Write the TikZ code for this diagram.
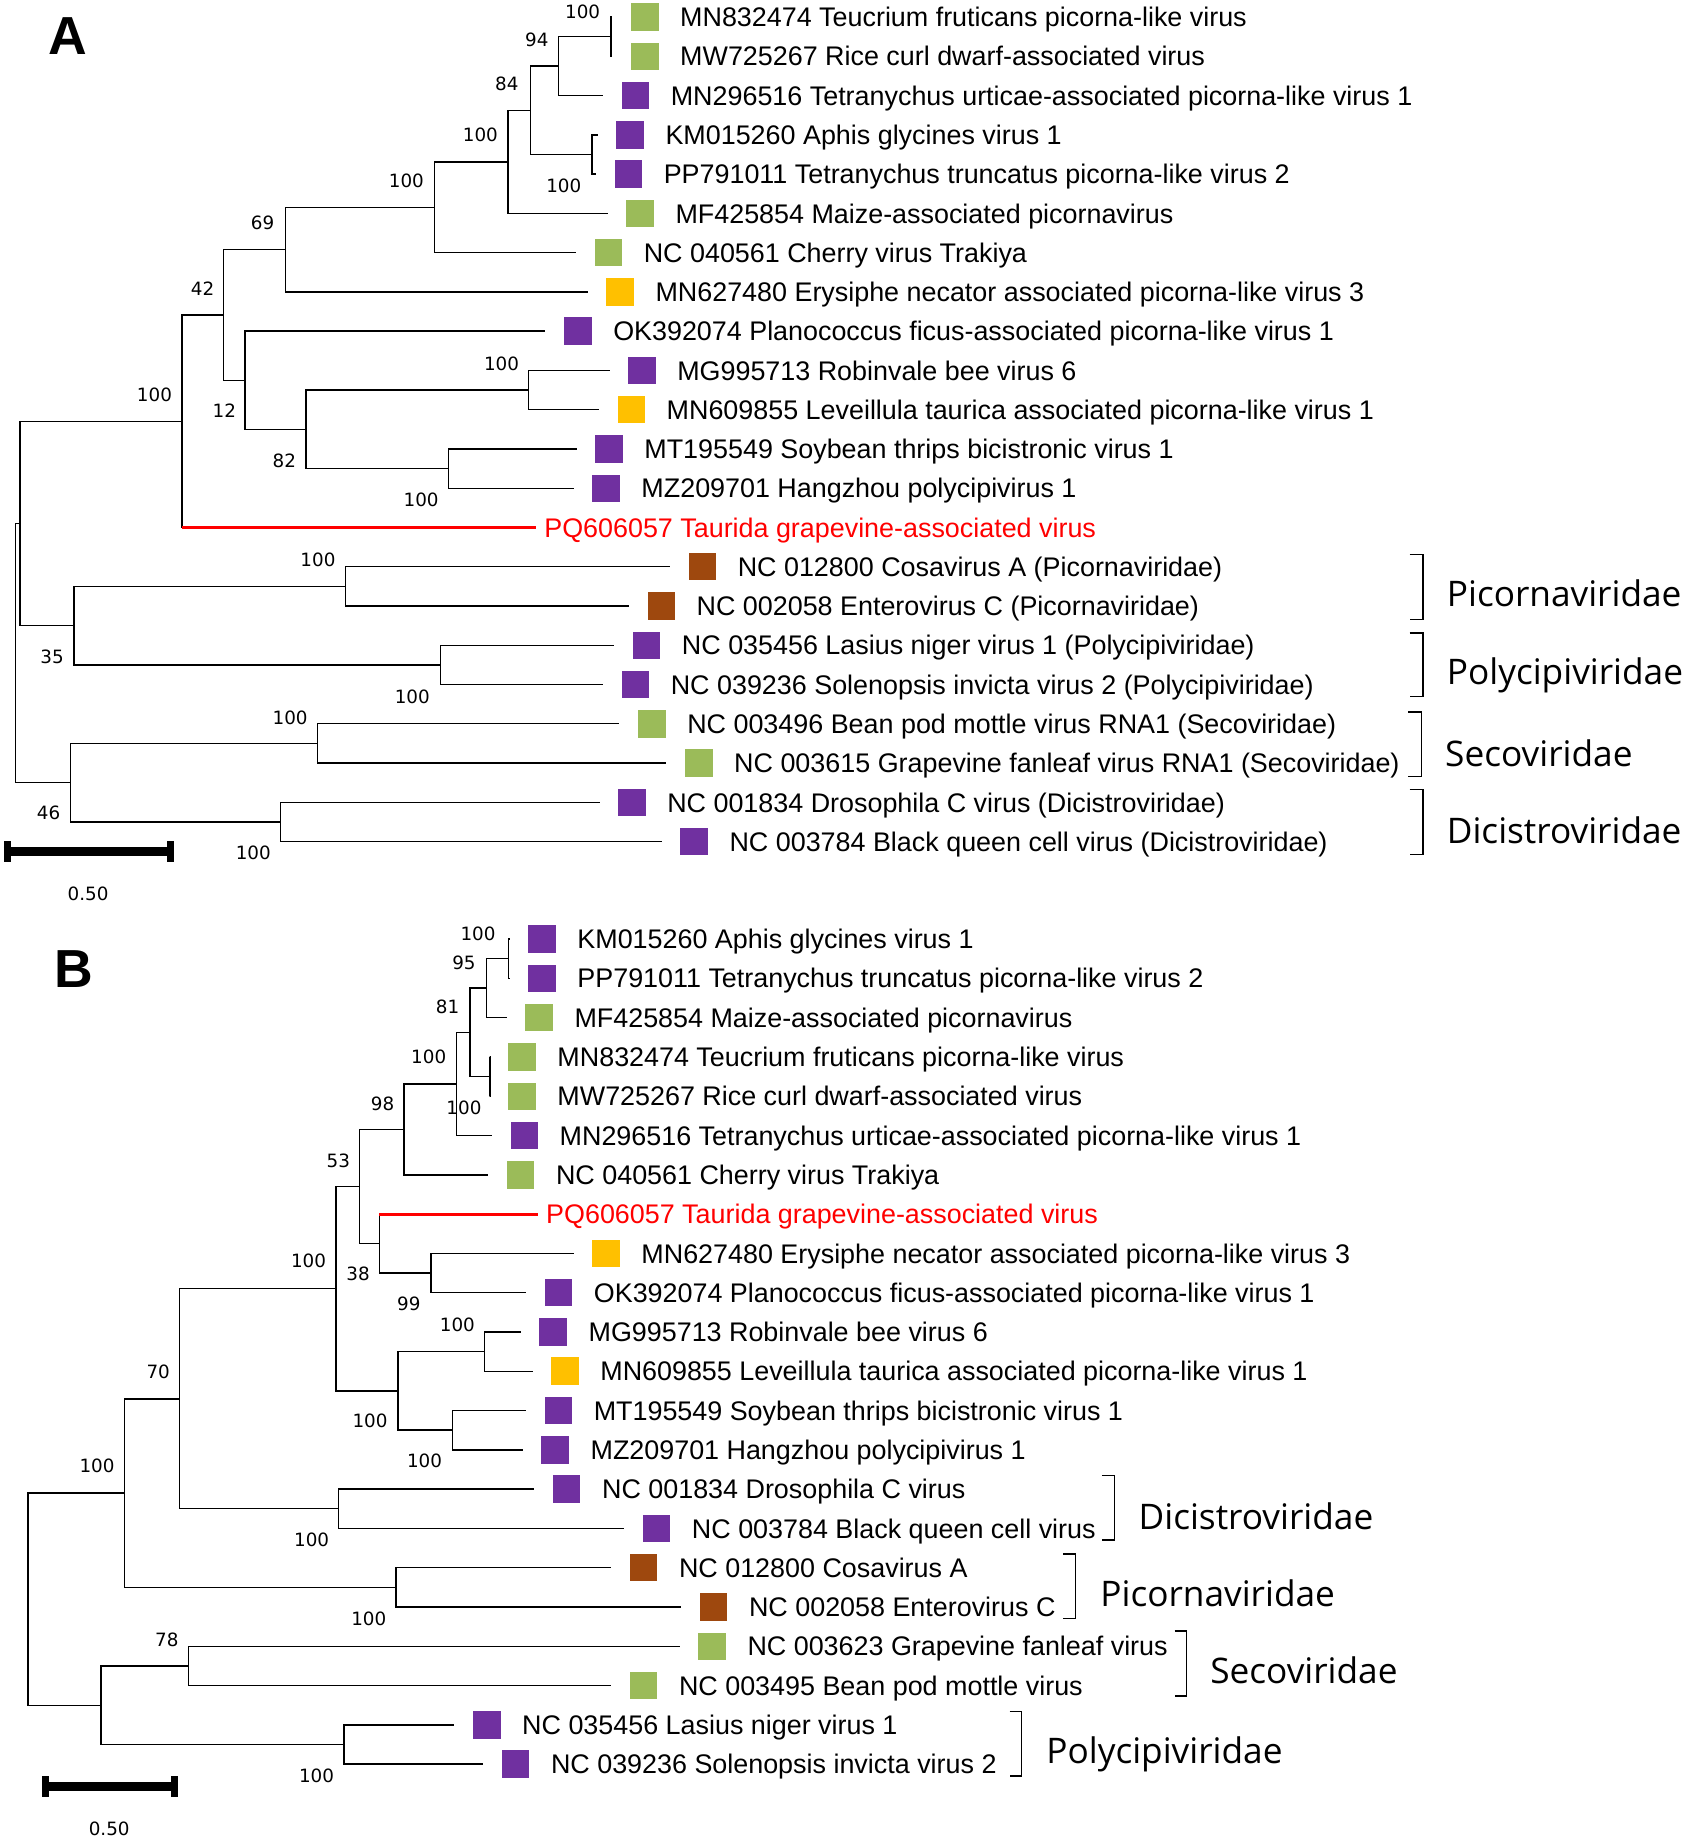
\documentclass[tikz,border=0pt]{standalone}
\usepackage{fontspec}
\setmainfont{Liberation Sans}
\newfontfamily\bootfont{DejaVu Sans}
\newfontfamily\famfont{Open Sans}
\usetikzlibrary{positioning}
\definecolor{hostplant}{RGB}{155,187,89}
\definecolor{hostinsect}{RGB}{112,48,160}
\definecolor{hostfungus}{RGB}{255,192,0}
\definecolor{hostvert}{RGB}{158,72,14}
\definecolor{query}{RGB}{255,0,0}

\begin{document}
\begin{tikzpicture}[x=0.5pt,y=-0.5pt]
\tikzstyle{branch}=[line width=0.6pt]
\tikzstyle{newbranch}=[line width=1.3pt, draw=query]
\tikzstyle{sq}=[rectangle, inner sep=0pt, minimum size=11.7pt]
\tikzstyle{taxon}=[anchor=west, inner sep=0pt, text height=8.2pt, text depth=0pt, font=\fontsize{11.45}{13}\selectfont]
\tikzstyle{boot}=[inner sep=0pt, font=\bootfont\fontsize{7.8}{9}\selectfont]
\tikzstyle{family}=[anchor=west, inner sep=0pt, text height=10.7pt, text depth=0pt, font=\famfont\fontsize{15}{18}\selectfont]
\tikzstyle{bracket}=[line width=0.6pt]
\tikzstyle{panel}=[inner sep=0pt, font=\bfseries\fontsize{22.8}{26}\selectfont]
\tikzstyle{scalebar}=[line width=3.5pt]
\tikzstyle{scaletick}=[line width=3pt]

\useasboundingbox (0,0) rectangle (1443,1568.2);

\node[panel] (pA) at (57.8,30.5) {A};
\node[panel] (pB) at (62.7,825) {B};

% panel A: taxa
\node[sq, fill=hostplant] (sA1) at (549,14.5) {};
\node[taxon, right=8.8pt of sA1] (A1) {MN832474 Teucrium fruticans picorna-like virus};
\coordinate[left=7.75pt of sA1] (tA1);
\node[sq, fill=hostplant] (sA2) at (549,47.9) {};
\node[taxon, right=8.8pt of sA2] (A2) {MW725267 Rice curl dwarf-associated virus};
\coordinate[left=7.75pt of sA2] (tA2);
\node[sq, fill=hostinsect] (sA3) at (541,81.4) {};
\node[taxon, right=8.8pt of sA3] (A3) {MN296516 Tetranychus urticae-associated picorna-like virus 1};
\coordinate[left=7.75pt of sA3] (tA3);
\node[sq, fill=hostinsect] (sA4) at (536.5,114.8) {};
\node[taxon, right=8.8pt of sA4] (A4) {KM015260 Aphis glycines virus 1};
\coordinate[left=7.75pt of sA4] (tA4);
\node[sq, fill=hostinsect] (sA5) at (535,148.2) {};
\node[taxon, right=8.8pt of sA5] (A5) {PP791011 Tetranychus truncatus picorna-like virus 2};
\coordinate[left=7.75pt of sA5] (tA5);
\node[sq, fill=hostplant] (sA6) at (545,181.7) {};
\node[taxon, right=8.8pt of sA6] (A6) {MF425854 Maize-associated picornavirus};
\coordinate[left=7.75pt of sA6] (tA6);
\node[sq, fill=hostplant] (sA7) at (518,215.1) {};
\node[taxon, right=8.8pt of sA7] (A7) {NC 040561 Cherry virus Trakiya};
\coordinate[left=7.75pt of sA7] (tA7);
\node[sq, fill=hostfungus] (sA8) at (528,248.5) {};
\node[taxon, right=8.8pt of sA8] (A8) {MN627480 Erysiphe necator associated picorna-like virus 3};
\coordinate[left=7.75pt of sA8] (tA8);
\node[sq, fill=hostinsect] (sA9) at (492,281.9) {};
\node[taxon, right=8.8pt of sA9] (A9) {OK392074 Planococcus ficus-associated picorna-like virus 1};
\coordinate[left=7.75pt of sA9] (tA9);
\node[sq, fill=hostinsect] (sA10) at (546.5,315.4) {};
\node[taxon, right=8.8pt of sA10] (A10) {MG995713 Robinvale bee virus 6};
\coordinate[left=7.75pt of sA10] (tA10);
\node[sq, fill=hostfungus] (sA11) at (537.5,348.8) {};
\node[taxon, right=8.8pt of sA11] (A11) {MN609855 Leveillula taurica associated picorna-like virus 1};
\coordinate[left=7.75pt of sA11] (tA11);
\node[sq, fill=hostinsect] (sA12) at (518.5,382.2) {};
\node[taxon, right=8.8pt of sA12] (A12) {MT195549 Soybean thrips bicistronic virus 1};
\coordinate[left=7.75pt of sA12] (tA12);
\node[sq, fill=hostinsect] (sA13) at (516,415.7) {};
\node[taxon, right=8.8pt of sA13] (A13) {MZ209701 Hangzhou polycipivirus 1};
\coordinate[left=7.75pt of sA13] (tA13);
\coordinate (tA14) at (456,449.1);
\node[taxon, text=query, right=3.5pt of tA14] (A14) {PQ606057 Taurida grapevine-associated virus};
\node[sq, fill=hostvert] (sA15) at (598,482.5) {};
\node[taxon, right=8.8pt of sA15] (A15) {NC 012800 Cosavirus A (Picornaviridae)};
\coordinate[left=7.75pt of sA15] (tA15);
\node[sq, fill=hostvert] (sA16) at (563,515.9) {};
\node[taxon, right=8.8pt of sA16] (A16) {NC 002058 Enterovirus C (Picornaviridae)};
\coordinate[left=7.75pt of sA16] (tA16);
\node[sq, fill=hostinsect] (sA17) at (550.5,549.4) {};
\node[taxon, right=8.8pt of sA17] (A17) {NC 035456 Lasius niger virus 1 (Polycipiviridae)};
\coordinate[left=7.75pt of sA17] (tA17);
\node[sq, fill=hostinsect] (sA18) at (541,582.8) {};
\node[taxon, right=8.8pt of sA18] (A18) {NC 039236 Solenopsis invicta virus 2 (Polycipiviridae)};
\coordinate[left=7.75pt of sA18] (tA18);
\node[sq, fill=hostplant] (sA19) at (555,616.2) {};
\node[taxon, right=8.8pt of sA19] (A19) {NC 003496 Bean pod mottle virus RNA1 (Secoviridae)};
\coordinate[left=7.75pt of sA19] (tA19);
\node[sq, fill=hostplant] (sA20) at (595,649.7) {};
\node[taxon, right=8.8pt of sA20] (A20) {NC 003615 Grapevine fanleaf virus RNA1 (Secoviridae)};
\coordinate[left=7.75pt of sA20] (tA20);
\node[sq, fill=hostinsect] (sA21) at (538,683.1) {};
\node[taxon, right=8.8pt of sA21] (A21) {NC 001834 Drosophila C virus (Dicistroviridae)};
\coordinate[left=7.75pt of sA21] (tA21);
\node[sq, fill=hostinsect] (sA22) at (591,716.5) {};
\node[taxon, right=8.8pt of sA22] (A22) {NC 003784 Black queen cell virus (Dicistroviridae)};
\coordinate[left=7.75pt of sA22] (tA22);

% panel A: tree
\coordinate (a1) at (520,31.2);
\coordinate (a2) at (475.5,56.3);
\coordinate (a3) at (451.5,93.9);
\coordinate (a4) at (504,131.5);
\coordinate (a5) at (432.5,137.8);
\coordinate (a6) at (370,176.5);
\coordinate (a7) at (243,212.5);
\coordinate (a8) at (190.5,268.1);
\coordinate (a9) at (208.5,323.7);
\coordinate (a10) at (260.5,365.5);
\coordinate (a11) at (450,332.1);
\coordinate (a12) at (382,399);
\coordinate (a13) at (155,358.6);
\coordinate (a14) at (17,445.6);
\coordinate (a15) at (63,532.7);
\coordinate (a16) at (294,499.2);
\coordinate (a17) at (375,566.1);
\coordinate (a18) at (60,666.4);
\coordinate (a19) at (270.5,633);
\coordinate (a20) at (239,699.8);
\coordinate (rA) at (13,556);

\draw[branch] (a1) |- (tA1);
\draw[branch] (a1) |- (tA2);
\draw[branch] (a2) |- (a1);
\draw[branch] (a2) |- (tA3);
\draw[branch] (a4) |- (tA4);
\draw[branch] (a4) |- (tA5);
\draw[branch] (a3) |- (a2);
\draw[branch] (a3) |- (a4);
\draw[branch] (a5) |- (a3);
\draw[branch] (a5) |- (tA6);
\draw[branch] (a6) |- (a5);
\draw[branch] (a6) |- (tA7);
\draw[branch] (a7) |- (a6);
\draw[branch] (a7) |- (tA8);
\draw[branch] (a11) |- (tA10);
\draw[branch] (a11) |- (tA11);
\draw[branch] (a12) |- (tA12);
\draw[branch] (a12) |- (tA13);
\draw[branch] (a10) |- (a11);
\draw[branch] (a10) |- (a12);
\draw[branch] (a9) |- (tA9);
\draw[branch] (a9) |- (a10);
\draw[branch] (a8) |- (a7);
\draw[branch] (a8) |- (a9);
\draw[branch] (a13) |- (a8);
\draw[branch] (a13) -- (a13 |- tA14);
\draw[newbranch] (a13 |- tA14) -- (tA14);
\draw[branch] (a16) |- (tA15);
\draw[branch] (a16) |- (tA16);
\draw[branch] (a17) |- (tA17);
\draw[branch] (a17) |- (tA18);
\draw[branch] (a15) |- (a16);
\draw[branch] (a15) |- (a17);
\draw[branch] (a14) |- (a13);
\draw[branch] (a14) |- (a15);
\draw[branch] (a19) |- (tA19);
\draw[branch] (a19) |- (tA20);
\draw[branch] (a20) |- (tA21);
\draw[branch] (a20) |- (tA22);
\draw[branch] (a18) |- (a19);
\draw[branch] (a18) |- (a20);
\draw[branch] (rA) |- (a14);
\draw[branch] (rA) |- (a18);

\node[boot] (bA1) at (496,10) {100};
\node[boot] (bA2) at (457,34) {94};
\node[boot] (bA3) at (431.5,71.5) {84};
\node[boot] (bA4) at (480,158) {100};
\node[boot] (bA5) at (409,115) {100};
\node[boot] (bA6) at (346,154) {100};
\node[boot] (bA7) at (223.5,190) {69};
\node[boot] (bA8) at (172.5,245.5) {42};
\node[boot] (bA9) at (191,350) {12};
\node[boot] (bA10) at (242,392) {82};
\node[boot] (bA11) at (427,310) {100};
\node[boot] (bA12) at (358.5,425.7) {100};
\node[boot] (bA13) at (131.5,336) {100};
\node[boot] (bA15) at (44.3,559) {35};
\node[boot] (bA16) at (270.7,477) {100};
\node[boot] (bA17) at (351,593) {100};
\node[boot] (bA18) at (41.3,692) {46};
\node[boot] (bA19) at (247,611) {100};
\node[boot] (bA20) at (215.6,726.4) {100};

% panel A: families
\draw[bracket] (1200,472.3) -| (1211.3,527.6) -- (1200,527.6);
\draw[bracket] (1200,539) -| (1211.3,592.9) -- (1200,592.9);
\draw[bracket] (1199,606.2) -| (1210,661) -- (1199,661);
\draw[bracket] (1200,672.3) -| (1211.3,727.6) -- (1200,727.6);
\node[family] (fA1) at (1231.4,505.5) {Picornaviridae};
\node[family] (fA2) at (1231.4,572) {Polycipiviridae};
\node[family] (fA3) at (1230,641.7) {Secoviridae};
\node[family] (fA4) at (1231.4,707) {Dicistroviridae};

\coordinate (sbA1) at (3.3,725);
\coordinate (sbA2) at (148,725);
\draw[scalebar] (sbA1) -- (sbA2);
\draw[scaletick] ([xshift=1.5pt,yshift=4.5pt]sbA1) -- ([xshift=1.5pt,yshift=-4.5pt]sbA1);
\draw[scaletick] ([xshift=-1.5pt,yshift=4.5pt]sbA2) -- ([xshift=-1.5pt,yshift=-4.5pt]sbA2);
\node[boot] (slA) at (75,761) {0.50};

% panel B: taxa
\node[sq, fill=hostinsect] (sB1) at (461.5,799.5) {};
\node[taxon, right=8.8pt of sB1] (B1) {KM015260 Aphis glycines virus 1};
\coordinate[left=7.75pt of sB1] (tB1);
\node[sq, fill=hostinsect] (sB2) at (461.5,832.9) {};
\node[taxon, right=8.8pt of sB2] (B2) {PP791011 Tetranychus truncatus picorna-like virus 2};
\coordinate[left=7.75pt of sB2] (tB2);
\node[sq, fill=hostplant] (sB3) at (459,866.4) {};
\node[taxon, right=8.8pt of sB3] (B3) {MF425854 Maize-associated picornavirus};
\coordinate[left=7.75pt of sB3] (tB3);
\node[sq, fill=hostplant] (sB4) at (444.5,899.8) {};
\node[taxon, right=8.8pt of sB4] (B4) {MN832474 Teucrium fruticans picorna-like virus};
\coordinate[left=7.75pt of sB4] (tB4);
\node[sq, fill=hostplant] (sB5) at (444.5,933.3) {};
\node[taxon, right=8.8pt of sB5] (B5) {MW725267 Rice curl dwarf-associated virus};
\coordinate[left=7.75pt of sB5] (tB5);
\node[sq, fill=hostinsect] (sB6) at (446.4,966.7) {};
\node[taxon, right=8.8pt of sB6] (B6) {MN296516 Tetranychus urticae-associated picorna-like virus 1};
\coordinate[left=7.75pt of sB6] (tB6);
\node[sq, fill=hostplant] (sB7) at (443.3,1000.2) {};
\node[taxon, right=8.8pt of sB7] (B7) {NC 040561 Cherry virus Trakiya};
\coordinate[left=7.75pt of sB7] (tB7);
\coordinate (tB8) at (457.6,1033.6);
\node[taxon, text=query, right=3.5pt of tB8] (B8) {PQ606057 Taurida grapevine-associated virus};
\node[sq, fill=hostfungus] (sB9) at (516,1067.1) {};
\node[taxon, right=8.8pt of sB9] (B9) {MN627480 Erysiphe necator associated picorna-like virus 3};
\coordinate[left=7.75pt of sB9] (tB9);
\node[sq, fill=hostinsect] (sB10) at (475.5,1100.5) {};
\node[taxon, right=8.8pt of sB10] (B10) {OK392074 Planococcus ficus-associated picorna-like virus 1};
\coordinate[left=7.75pt of sB10] (tB10);
\node[sq, fill=hostinsect] (sB11) at (471,1134) {};
\node[taxon, right=8.8pt of sB11] (B11) {MG995713 Robinvale bee virus 6};
\coordinate[left=7.75pt of sB11] (tB11);
\node[sq, fill=hostfungus] (sB12) at (481,1167.4) {};
\node[taxon, right=8.8pt of sB12] (B12) {MN609855 Leveillula taurica associated picorna-like virus 1};
\coordinate[left=7.75pt of sB12] (tB12);
\node[sq, fill=hostinsect] (sB13) at (475.4,1200.9) {};
\node[taxon, right=8.8pt of sB13] (B13) {MT195549 Soybean thrips bicistronic virus 1};
\coordinate[left=7.75pt of sB13] (tB13);
\node[sq, fill=hostinsect] (sB14) at (472.7,1234.3) {};
\node[taxon, right=8.8pt of sB14] (B14) {MZ209701 Hangzhou polycipivirus 1};
\coordinate[left=7.75pt of sB14] (tB14);
\node[sq, fill=hostinsect] (sB15) at (482.5,1267.8) {};
\node[taxon, right=8.8pt of sB15] (B15) {NC 001834 Drosophila C virus};
\coordinate[left=7.75pt of sB15] (tB15);
\node[sq, fill=hostinsect] (sB16) at (559,1301.2) {};
\node[taxon, right=8.8pt of sB16] (B16) {NC 003784 Black queen cell virus};
\coordinate[left=7.75pt of sB16] (tB16);
\node[sq, fill=hostvert] (sB17) at (548,1334.7) {};
\node[taxon, right=8.8pt of sB17] (B17) {NC 012800 Cosavirus A};
\coordinate[left=7.75pt of sB17] (tB17);
\node[sq, fill=hostvert] (sB18) at (607.6,1368.1) {};
\node[taxon, right=8.8pt of sB18] (B18) {NC 002058 Enterovirus C};
\coordinate[left=7.75pt of sB18] (tB18);
\node[sq, fill=hostplant] (sB19) at (606.3,1401.6) {};
\node[taxon, right=8.8pt of sB19] (B19) {NC 003623 Grapevine fanleaf virus};
\coordinate[left=7.75pt of sB19] (tB19);
\node[sq, fill=hostplant] (sB20) at (548,1435) {};
\node[taxon, right=8.8pt of sB20] (B20) {NC 003495 Bean pod mottle virus};
\coordinate[left=7.75pt of sB20] (tB20);
\node[sq, fill=hostinsect] (sB21) at (414.5,1468.5) {};
\node[taxon, right=8.8pt of sB21] (B21) {NC 035456 Lasius niger virus 1};
\coordinate[left=7.75pt of sB21] (tB21);
\node[sq, fill=hostinsect] (sB22) at (439,1501.9) {};
\node[taxon, right=8.8pt of sB22] (B22) {NC 039236 Solenopsis invicta virus 2};
\coordinate[left=7.75pt of sB22] (tB22);

% panel B: tree
\coordinate (b1) at (432.7,816.2);
\coordinate (b2) at (414.2,841.3);
\coordinate (b3) at (400,879);
\coordinate (b4) at (417,916.6);
\coordinate (b5) at (388.5,922.9);
\coordinate (b6) at (344,961.6);
\coordinate (b7) at (306,1010.2);
\coordinate (b8) at (323,1058.7);
\coordinate (b9) at (367,1083.8);
\coordinate (b10) at (286,1097.2);
\coordinate (b11) at (338.7,1184.2);
\coordinate (b12) at (412.5,1150.7);
\coordinate (b13) at (385,1217.6);
\coordinate (b14) at (153,1190.9);
\coordinate (b15) at (288,1284.5);
\coordinate (b16) at (106,1271.2);
\coordinate (b17) at (337,1351.4);
\coordinate (b18) at (86,1451.8);
\coordinate (b19) at (160.6,1418.3);
\coordinate (b20) at (293,1485.2);
\coordinate (rB) at (24,1361.5);

\draw[branch] (b1) |- (tB1);
\draw[branch] (b1) |- (tB2);
\draw[branch] (b2) |- (b1);
\draw[branch] (b2) |- (tB3);
\draw[branch] (b4) |- (tB4);
\draw[branch] (b4) |- (tB5);
\draw[branch] (b3) |- (b2);
\draw[branch] (b3) |- (b4);
\draw[branch] (b5) |- (b3);
\draw[branch] (b5) |- (tB6);
\draw[branch] (b6) |- (b5);
\draw[branch] (b6) |- (tB7);
\draw[branch] (b9) |- (tB9);
\draw[branch] (b9) |- (tB10);
\draw[branch] (b8) -- (b8 |- tB8);
\draw[newbranch] (b8 |- tB8) -- (tB8);
\draw[branch] (b8) |- (b9);
\draw[branch] (b7) |- (b6);
\draw[branch] (b7) |- (b8);
\draw[branch] (b12) |- (tB11);
\draw[branch] (b12) |- (tB12);
\draw[branch] (b13) |- (tB13);
\draw[branch] (b13) |- (tB14);
\draw[branch] (b11) |- (b12);
\draw[branch] (b11) |- (b13);
\draw[branch] (b10) |- (b7);
\draw[branch] (b10) |- (b11);
\draw[branch] (b15) |- (tB15);
\draw[branch] (b15) |- (tB16);
\draw[branch] (b14) |- (b10);
\draw[branch] (b14) |- (b15);
\draw[branch] (b17) |- (tB17);
\draw[branch] (b17) |- (tB18);
\draw[branch] (b16) |- (b14);
\draw[branch] (b16) |- (b17);
\draw[branch] (b19) |- (tB19);
\draw[branch] (b19) |- (tB20);
\draw[branch] (b20) |- (tB21);
\draw[branch] (b20) |- (tB22);
\draw[branch] (b18) |- (b19);
\draw[branch] (b18) |- (b20);
\draw[branch] (rB) |- (b16);
\draw[branch] (rB) |- (b18);

\node[boot] (bB1) at (407,795) {100};
\node[boot] (bB2) at (395,820) {95};
\node[boot] (bB3) at (381,857.5) {81};
\node[boot] (bB4) at (395,943.5) {100};
\node[boot] (bB5) at (365,900) {100};
\node[boot] (bB6) at (325.7,939.7) {98};
\node[boot] (bB7) at (288,988) {53};
\node[boot] (bB8) at (304.9,1084.5) {38};
\node[boot] (bB9) at (348,1110) {99};
\node[boot] (bB10) at (262.7,1073.5) {100};
\node[boot] (bB11) at (315,1210) {100};
\node[boot] (bB12) at (389.4,1128) {100};
\node[boot] (bB13) at (361.4,1244) {100};
\node[boot] (bB14) at (134.7,1167.8) {70};
\node[boot] (bB15) at (265.3,1311) {100};
\node[boot] (bB16) at (82.6,1248) {100};
\node[boot] (bB17) at (314,1378) {100};
\node[boot] (bB19) at (142,1395.8) {78};
\node[boot] (bB20) at (269.5,1511.5) {100};

% panel B: families
\draw[bracket] (938,1256) -| (949,1311) -- (938,1311);
\draw[bracket] (905,1323) -| (915.7,1378) -- (905,1378);
\draw[bracket] (1000,1388.5) -| (1010,1444) -- (1000,1444);
\draw[bracket] (859.5,1457) -| (869.5,1512) -- (859.5,1512);
\node[family] (fB1) at (969,1291.4) {Dicistroviridae};
\node[family] (fB2) at (936.4,1357.3) {Picornaviridae};
\node[family] (fB3) at (1030,1422.6) {Secoviridae};
\node[family] (fB4) at (890.4,1490.7) {Polycipiviridae};

\coordinate (sbB1) at (35.8,1521);
\coordinate (sbB2) at (151.4,1521);
\draw[scalebar] (sbB1) -- (sbB2);
\draw[scaletick] ([xshift=1.5pt,yshift=4.5pt]sbB1) -- ([xshift=1.5pt,yshift=-4.5pt]sbB1);
\draw[scaletick] ([xshift=-1.5pt,yshift=4.5pt]sbB2) -- ([xshift=-1.5pt,yshift=-4.5pt]sbB2);
\node[boot] (slB) at (93,1557) {0.50};
\end{tikzpicture}
\end{document}
